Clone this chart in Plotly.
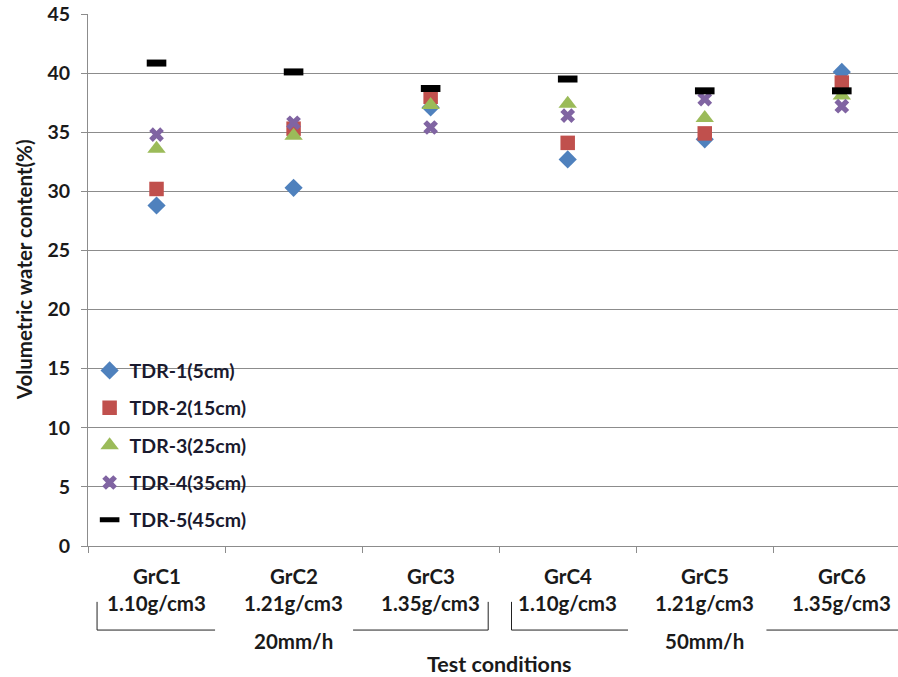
import plotly.graph_objects as go

categories = ["GrC1", "GrC2", "GrC3", "GrC4", "GrC5", "GrC6"]
densities = ["1.10g/cm3", "1.21g/cm3", "1.35g/cm3", "1.10g/cm3", "1.21g/cm3", "1.35g/cm3"]
rain_groups = ["20mm/h", "50mm/h"]

tdr1 = [28.8, 30.3, 37.1, 32.7, 34.4, 40.1]
tdr2 = [30.2, 35.3, 38.0, 34.1, 34.9, 39.2]
tdr3 = [33.6, 34.7, 37.3, 37.4, 36.2, 38.1]
tdr4 = [34.8, 35.8, 35.4, 36.4, 37.8, 37.2]
tdr5 = [40.85, 40.1, 38.7, 39.5, 38.5, 38.5]

series = [
    ("TDR-1(5cm)", tdr1, "diamond", "#4F81BD", 14),
    ("TDR-2(15cm)", tdr2, "square", "#C0504D", 14.5),
    ("TDR-3(25cm)", tdr3, "triangle-up", "#9BBB59", 16),
    ("TDR-4(35cm)", tdr4, "x", "#8064A2", 13),
    ("TDR-5(45cm)", tdr5, "line-ew", "#000000", 14),
]

FONT = "Lato"
TXT = "#1a1a1a"
fig = go.Figure()
for i, (name, vals, sym, col, sz) in enumerate(series):
    if sym == "line-ew":
        marker = dict(symbol=sym, size=sz, line=dict(color=col, width=7))
    else:
        marker = dict(symbol=sym, size=sz, color=col, line=dict(width=0))
    fig.add_trace(go.Scatter(x=categories, y=vals, mode="markers", name=name,
                             marker=marker, legendgroup=f"g{i}"))

def bfont(size, color=TXT):
    return dict(family=FONT, size=size, color=color, weight="bold")

# category labels (two rows) as annotations
for c, d in zip(categories, densities):
    fig.add_annotation(x=c, y=-0.0565, xref="x", yref="paper", text=c,
                       showarrow=False, yanchor="middle", font=bfont(20.5))
    fig.add_annotation(x=c, y=-0.1075, xref="x", yref="paper", text=d,
                       showarrow=False, yanchor="middle", font=bfont(20.5))

# group labels
for gi, g in enumerate(rain_groups):
    center = gi * 3 + 1
    fig.add_annotation(x=center, y=-0.178, xref="x", yref="paper", text=g,
                       showarrow=False, yanchor="middle", font=bfont(20.5))

# brackets (Excel-style multi-level category dividers)
line = dict(color="#222222", width=1)
yb = -0.158
ytop = -0.105
brackets = [
    (-0.434, 0.427, 1.434, 2.42),
    (2.59, 3.44, 4.45, None),
]
for lx, lend, rstart, rx in brackets:
    fig.add_shape(type="line", xref="x", yref="paper", x0=lx, x1=lx, y0=ytop, y1=yb, line=line)
    fig.add_shape(type="line", xref="x", yref="paper", x0=lx, x1=lend, y0=yb, y1=yb, line=line)
    fig.add_shape(type="line", xref="x", yref="paper", x0=rstart,
                  x1=(rx if rx is not None else 5.6), y0=yb, y1=yb, line=line)
    if rx is not None:
        fig.add_shape(type="line", xref="x", yref="paper", x0=rx, x1=rx, y0=ytop, y1=yb, line=line)

fig.add_annotation(x=2.5, y=-0.221, xref="x", yref="paper", text="Test conditions",
                   showarrow=False, yanchor="middle", font=bfont(21.5))

# y-axis title
fig.add_annotation(x=-0.078, y=0.52, xref="paper", yref="paper",
                   text="Volumetric water content(%)", textangle=-90,
                   showarrow=False, xanchor="center", yanchor="middle", font=bfont(20.5))

fig.update_layout(
    width=898, height=677,
    margin=dict(l=88, r=0, t=14, b=131),
    plot_bgcolor="white", paper_bgcolor="white",
    showlegend=True,
    legend=dict(x=0.002, y=0.366, xanchor="left", yanchor="top",
                bgcolor="rgba(0,0,0,0)", tracegroupgap=9,
                font=bfont(19.5, "#1a1a2e"),
                itemwidth=30),
    yaxis=dict(range=[0, 45], dtick=5, showgrid=True, gridcolor="#8c8c8c", gridwidth=1,
               showline=True, linecolor="#8c8c8c", ticks="outside", ticklen=6,
               tickcolor="#8c8c8c", zeroline=False, ticklabelstandoff=7,
               tickfont=bfont(19.5)),
    xaxis=dict(type="category", range=[-0.5, 5.41], showgrid=False, showline=True,
               linecolor="#8c8c8c", ticks="outside", ticklen=6, tickcolor="#8c8c8c",
               tickson="boundaries", showticklabels=False),
)

fig.write_html("out.html")
